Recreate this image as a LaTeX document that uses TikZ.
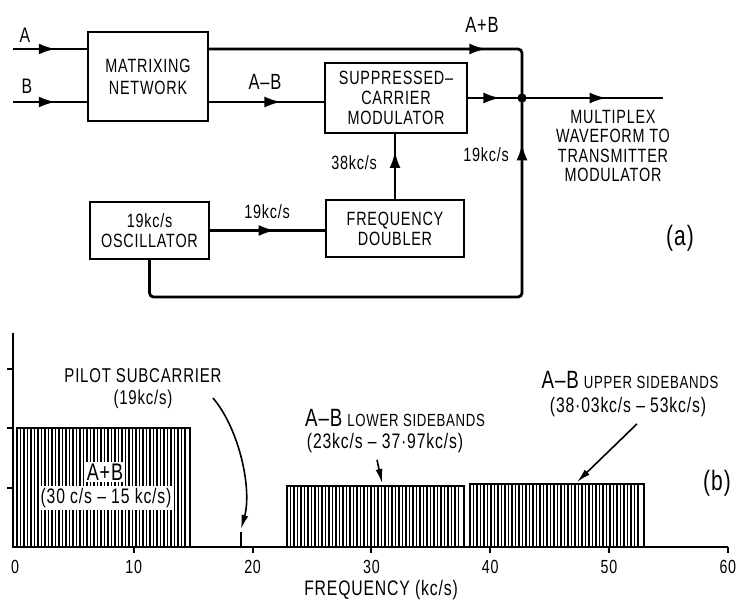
\documentclass[tikz,border=0pt]{standalone}
\usepackage{fontspec}
\setmainfont{Liberation Sans}[FakeStretch=0.75,LetterSpace=4]
\usetikzlibrary{arrows.meta,decorations.markings}

\begin{document}
\begin{tikzpicture}[x=0.5pt,y=-0.5pt,
  box/.style={draw, line width=1.2pt, align=center, inner sep=0pt, font=\fontsize{9.6}{10}\selectfont},
  sig/.style={line width=1.4pt},
  arrowat/.style={postaction={decorate}, decoration={markings, mark=at position #1 with {\arrow{Latex[length=8.5pt,width=5.5pt]}}}},
  lbl/.style={font=\fontsize{9.6}{10}\selectfont},
  axis/.style={line width=1pt},
  hatch/.style={line width=0.55pt},
  bar/.style={line width=0.9pt},
  note/.style={-{Latex[length=7pt,width=3.5pt]}, line width=0.8pt}]
\useasboundingbox (0,0) rectangle (753,603);

% (a) block diagram
\node[box, minimum width=60pt, minimum height=44.5pt, font=\fontsize{9.6}{11}\selectfont] (matrix) at (148,76.5) {MATRIXING\\NETWORK};
\node[box, minimum width=71pt, minimum height=35pt] (scm) at (396,98) {SUPPRESSED–\\CARRIER\\MODULATOR};
\node[box, minimum width=59.5pt, minimum height=28.5pt] (osc) at (149.5,230.5) {19kc/s\\OSCILLATOR};
\node[box, minimum width=69pt, minimum height=28.5pt] (doubler) at (395,228.5) {FREQUENCY\\DOUBLER};

\coordinate (inA) at (13,49);
\coordinate (inB) at (13,102);
\coordinate (j) at (522,98);
\coordinate (out) at (663,98);
\coordinate (fb) at (522,297);

\draw[sig, arrowat=0.58] (inA) -- (inA -| matrix.west);
\draw[sig, arrowat=0.58] (inB) -- (inB -| matrix.west);
\draw[sig, rounded corners=2pt, arrowat=0.77] (matrix.east |- inA) -| (j);
\draw[sig, arrowat=0.63] (matrix.east |- inB) -- (scm.west |- inB);
\draw[sig, arrowat=0.6] (scm.east) -- (j);
\draw[sig, arrowat=0.6] (j) -- (out);
\draw[sig, arrowat=0.74] (doubler.north) -- (doubler.north |- scm.south);
\draw[sig, arrowat=0.57] (osc.east) -- (osc.east -| doubler.west);
\draw[sig, rounded corners=2pt, arrowat=0.925] (osc.south) |- (fb) -- (j);
\fill (j) circle[radius=2.3pt];

\node[font=\fontsize{10.5}{12}\selectfont] (lblA) at (25,35) {A};
\node[font=\fontsize{10.5}{12}\selectfont] (lblB) at (27,86) {B};
\node[font=\fontsize{11}{12}\selectfont] (lblsum) at (482,25) {A+B};
\node[font=\fontsize{11}{12}\selectfont] (lbldiff) at (265,82) {A–B};
\node[lbl] (lbl38) at (354,163) {38kc/s};
\node[lbl] (lbl19a) at (486,155) {19kc/s};
\node[lbl] (lbl19b) at (267,212) {19kc/s};
\node[lbl, align=center, font=\fontsize{9.6}{9.6}\selectfont] (outlbl) at (613,146) {MULTIPLEX\\WAVEFORM TO\\TRANSMITTER\\MODULATOR};
\node[font=\fontsize{14}{15}\selectfont] (parta) at (680,238) {(a)};

% (b) spectrum
\draw[axis] (13,333) -- (13,547) -- (728,547);
\foreach \y in {369,428,488} \draw[axis] (7,\y) -- (13,\y);
\foreach \f in {10,20,...,60} \draw[axis] ({15+11.88*\f},547) -- ++(0,6);
\foreach \f in {0,10,...,60} \node[font=\fontsize{9.5}{10}\selectfont] (tick\f) at ({15+11.88*\f},567) {\f};
\node[font=\fontsize{10.5}{12}\selectfont] (xlbl) at (381,590) {FREQUENCY (kc/s)};

\foreach \x in {20.5,24,...,187} \draw[hatch] (\x,428) -- (\x,547);
\foreach \x in {290.5,294,...,461} \draw[hatch] (\x,486) -- (\x,547);
\foreach \x in {473.5,477,...,641} \draw[hatch] (\x,484) -- (\x,547);
\draw[bar] (17,428) rectangle (190,547);
\draw[bar] (287,486) rectangle (464,547);
\draw[bar] (470,484) rectangle (644,547);
\draw[line width=1pt] (240.7,532) -- (240.7,547);

\node[font=\fontsize{12}{13}\selectfont, fill=white, inner sep=1pt] (sumname) at (105,472) {A+B};
\node[font=\fontsize{10.5}{11}\selectfont, fill=white, inner sep=1pt] (sumrng) at (106,498) {(30 c/s – 15 kc/s)};

\node[font=\fontsize{10}{11}\selectfont, align=center] (pilot) at (143,389) {PILOT SUBCARRIER\\(19kc/s)};
\coordinate (pilotfrom) at (213,398);
\coordinate (pilotto) at (241,529);
\draw[note] (pilotfrom) .. controls (240,430) and (252,490) .. (pilotto);

\node (lowername) at (395,418) {{\fontsize{12.5}{13}\selectfont A–B} {\fontsize{8.8}{10}\selectfont LOWER SIDEBANDS}};
\node[font=\fontsize{10.5}{11}\selectfont] (lowerrng) at (385,443) {(23kc/s – 37·97kc/s)};
\coordinate (lowertip) at (382,483);
\draw[note] ([xshift=-4pt]lowerrng.south) -- (lowertip);

\node (uppername) at (630,380) {{\fontsize{12.5}{13}\selectfont A–B} {\fontsize{8.8}{10}\selectfont UPPER SIDEBANDS}};
\node[font=\fontsize{10.5}{11}\selectfont] (upperrng) at (628,407) {(38·03kc/s – 53kc/s)};
\coordinate (uppertip) at (577,482);
\draw[note] ([xshift=4.5pt]upperrng.south) -- (uppertip);

\node[font=\fontsize{14}{15}\selectfont] (partb) at (717,483) {(b)};
\end{tikzpicture}
\end{document}
